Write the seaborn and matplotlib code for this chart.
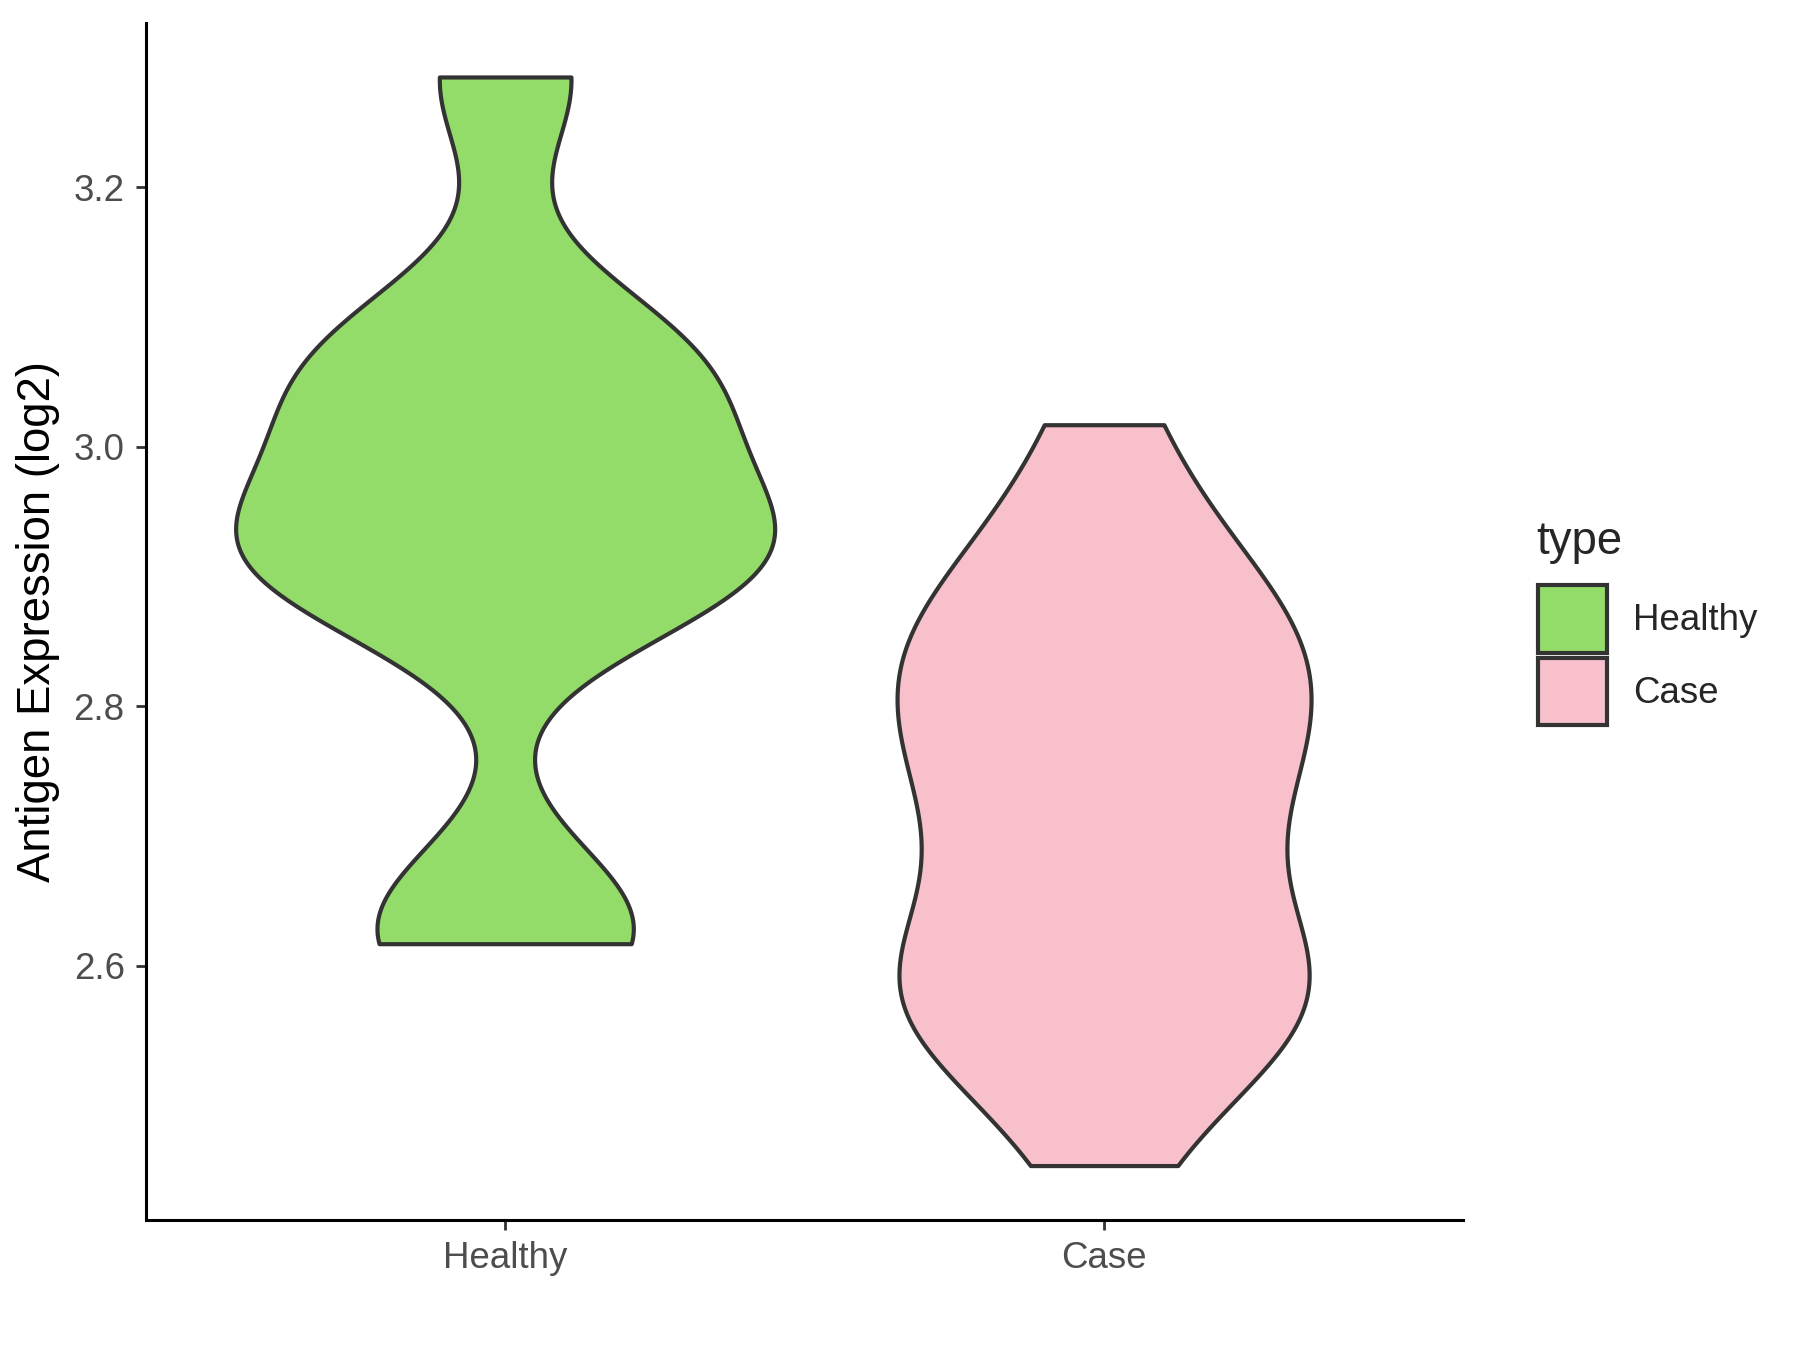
import numpy as np
import pandas as pd
import matplotlib
matplotlib.use("Agg")
import matplotlib.pyplot as plt
from matplotlib.patches import Patch
import seaborn as sns

# antigen expression (log2) per sample
healthy = [2.617, 2.640, 2.904, 2.904, 2.905, 2.965, 3.019, 3.063, 3.089, 3.285]
case = [2.446, 2.550, 2.555, 2.558, 2.580, 2.596, 2.597, 2.598, 2.708, 2.722,
        2.732, 2.753, 2.805, 2.816, 2.839, 2.848, 2.866, 2.891, 2.943, 3.017]
groups = ["Healthy", "Case"]
colors = ["#93DC6A", "#F7C0CB"]
y_ticks = [2.6, 2.8, 3.0, 3.2]

df = pd.DataFrame({
    "type": ["Healthy"] * len(healthy) + ["Case"] * len(case),
    "value": healthy + case,
})


def nrd0(kde):
    # R's bw.nrd0 (ggplot default), as a scipy bandwidth factor
    x = np.asarray(kde.dataset).ravel()
    sd = np.std(x, ddof=1)
    iqr = np.subtract(*np.percentile(x, [75, 25]))
    h = 0.9 * min(sd, iqr / 1.34) * len(x) ** -0.2
    return h / sd


sns.set_style("white")
plt.rcParams["font.family"] = ["Liberation Sans", "DejaVu Sans"]

fig = plt.figure(figsize=(9, 6.75), dpi=200)
ax = fig.add_axes([0.081, 0.0963, 0.732, 0.887])

sns.violinplot(data=df, x="type", y="value", hue="type", order=groups,
               hue_order=groups, palette=colors, saturation=1, inner=None,
               cut=0, gridsize=512, density_norm="area", common_norm=True,
               bw_method=nrd0, width=0.9, linewidth=1.5, linecolor="#333333",
               legend=False, ax=ax)

# ggplot-style 5% padding around the data
lo, hi = min(df["value"]), max(df["value"])
pad = 0.05 * (hi - lo)
ax.set_ylim(lo - pad, hi + pad)
ax.set_xlim(-0.6, 1.6)
ax.set_yticks(y_ticks)
ax.set_yticklabels([f"{t:.1f}" for t in y_ticks])
ax.set_xlabel("")
ax.set_ylabel("Antigen Expression (log2)", fontsize=16.4, color="black", labelpad=5)

for side in ["top", "right"]:
    ax.spines[side].set_visible(False)
for side in ["left", "bottom"]:
    ax.spines[side].set_linewidth(1.1)
    ax.spines[side].set_color("black")
ax.tick_params(axis="both", which="major", length=3.6, width=1.0,
               color="#333333", labelsize=13.2, labelcolor="#4D4D4D",
               left=True, bottom=True)
ax.tick_params(axis="y", pad=4)
ax.tick_params(axis="x", pad=4)

# legend on the right
fig.text(0.8533, 0.5896, "type", fontsize=16.4, va="baseline", ha="left")
handles = [Patch(facecolor=c, edgecolor="#333333", linewidth=1.5) for c in colors]
fig.legend(handles, groups, loc="upper left", bbox_to_anchor=(0.8546, 0.5663),
           frameon=False, fontsize=13.2, handlelength=1.88, handleheight=2.44,
           labelspacing=0.14, handletextpad=0.7, borderpad=0, borderaxespad=0)

fig.savefig("out.png", dpi=200)
